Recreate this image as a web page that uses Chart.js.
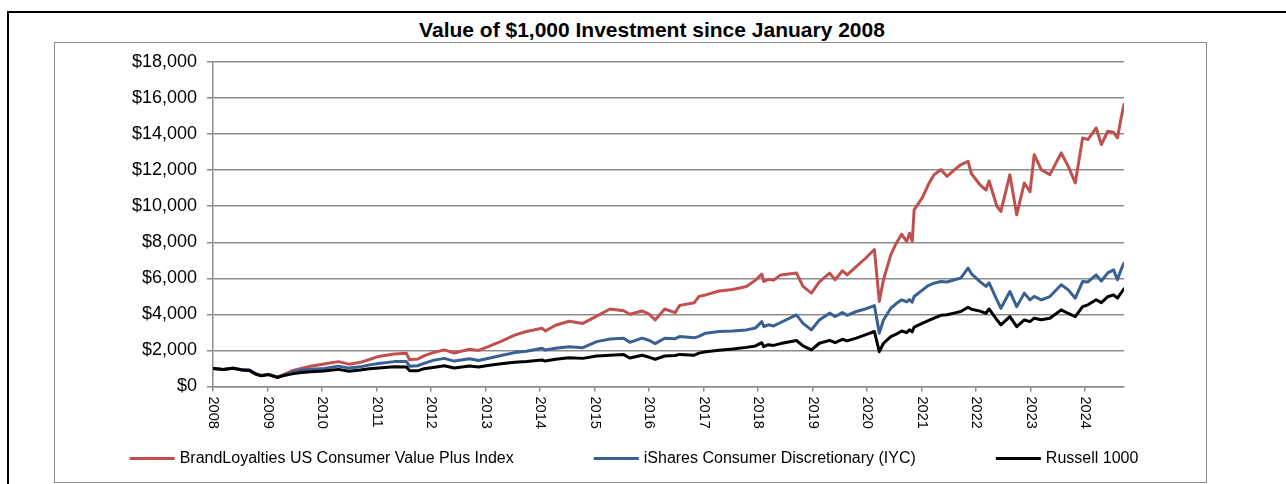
<!DOCTYPE html>
<html>
<head>
<meta charset="utf-8">
<title>Value of $1,000 Investment since January 2008</title>
<script src="https://cdn.jsdelivr.net/npm/chart.js@4.4.1/dist/chart.umd.min.js"></script>
<style>
  html, body { margin: 0; padding: 0; background: #fff; }
  body { width: 1286px; height: 484px; position: relative; overflow: hidden; font-family: "Liberation Sans", Arial, sans-serif; }
  #frame { position: absolute; left: 7px; top: 11px; width: 1300px; height: 500px; border-left: 2px solid #000; border-top: 2px solid #000; }
  #box { position: absolute; left: 54px; top: 42px; width: 1153px; height: 441px; box-sizing: border-box; border: 1.5px solid #8c8c8c; }
  #title { position: absolute; left: 352px; width: 600px; top: 19px; text-align: center; font-weight: bold; font-size: 21px; line-height: 21px; color: #000; white-space: nowrap; }
  canvas { position: absolute; left: 0; top: 0; }
</style>
</head>
<body>
<div id="frame"></div>
<div id="box"></div>
<div id="title">Value of $1,000 Investment since January 2008</div>
<canvas id="chart" width="1286" height="484"></canvas>
<script>
// dates (approximate)
const dates = [
  "2008-01-02", "2008-03-10", "2008-05-15", "2008-07-15", "2008-09-01", "2008-10-15", "2008-11-20",
  "2009-01-06", "2009-03-09", "2009-04-15", "2009-06-15", "2009-08-15", "2009-10-15",
  "2010-01-15", "2010-04-20", "2010-07-02", "2010-09-15", "2010-11-15",
  "2011-01-15", "2011-04-29", "2011-07-20", "2011-08-10", "2011-10-03", "2011-11-15",
  "2012-01-15", "2012-03-30", "2012-06-04", "2012-09-15", "2012-11-15",
  "2013-01-15", "2013-04-15", "2013-07-15", "2013-10-01",
  "2014-01-15", "2014-02-05", "2014-04-15", "2014-07-15", "2014-10-15",
  "2015-01-15", "2015-04-15", "2015-07-15", "2015-08-25", "2015-11-15",
  "2016-01-04", "2016-02-11", "2016-04-15", "2016-06-24", "2016-07-25", "2016-10-31", "2016-12-01",
  "2017-01-15", "2017-04-15", "2017-07-15", "2017-10-15", "2017-12-15",
  "2018-01-26", "2018-02-08", "2018-03-10", "2018-04-15", "2018-06-01", "2018-09-15", "2018-10-29", "2018-12-24",
  "2019-02-15", "2019-04-25", "2019-06-01", "2019-07-20", "2019-08-20", "2019-10-20", "2019-12-20",
  "2020-02-19", "2020-03-23", "2020-04-20", "2020-06-08", "2020-07-15", "2020-08-20", "2020-09-23", "2020-10-12", "2020-10-30", "2020-11-12",
  "2021-01-08", "2021-02-15", "2021-03-25", "2021-05-10", "2021-06-20", "2021-08-20", "2021-09-20", "2021-11-08", "2021-12-01",
  "2022-01-27", "2022-03-08", "2022-03-29", "2022-05-20", "2022-06-16", "2022-08-15", "2022-09-30", "2022-11-20", "2022-12-28",
  "2023-01-25", "2023-03-13", "2023-05-10", "2023-07-25", "2023-09-10", "2023-10-27", "2023-12-15",
  "2024-01-20", "2024-03-15", "2024-04-19", "2024-06-01", "2024-07-10", "2024-08-05", "2024-08-30", "2024-09-18"
];

const brandLoyalties = [
  1000, 950, 1020, 920, 920, 700, 610,
  680, 520, 650, 870, 1000, 1120,
  1250, 1380, 1240, 1340, 1500,
  1670, 1800, 1850, 1480, 1520, 1700,
  1880, 2030, 1860, 2070, 2000,
  2200, 2500, 2850, 3050,
  3230, 3080, 3400, 3620, 3500,
  3900, 4300, 4200, 4010, 4190,
  4000, 3690, 4300, 4100, 4500, 4650, 5000,
  5080, 5300, 5380, 5550, 5900,
  6230, 5820, 5950, 5900, 6190, 6290, 5550, 5180,
  5800, 6290, 5920, 6420, 6190, 6650, 7100,
  7600, 4720, 5920, 7300, 7950, 8450, 8040, 8500, 8050, 9800,
  10500, 11200, 11750, 12030, 11660, 12100, 12300, 12490, 11800,
  11190, 10900, 11400, 10000, 9710, 11750, 9530, 11290, 10800,
  12860, 12030, 11750, 12960, 12210, 11290, 13790,
  13700, 14340, 13420, 14160, 14100, 13790, 14900, 15640
];

const ishares = [
  1000, 950, 1010, 930, 910, 700, 610,
  670, 520, 620, 800, 900, 960,
  1000, 1130, 1020, 1090, 1200,
  1270, 1380, 1380, 1130, 1150, 1280,
  1450, 1560, 1410, 1540, 1440,
  1550, 1720, 1880, 1960,
  2120, 2020, 2120, 2210, 2150,
  2490, 2640, 2680, 2450, 2680,
  2550, 2380, 2680, 2650, 2770, 2700, 2780,
  2960, 3050, 3080, 3140, 3250,
  3600, 3330, 3420, 3360, 3550, 3970, 3500, 3140,
  3690, 4070, 3880, 4100, 3950, 4160, 4300,
  4490, 2960, 3690, 4340, 4600, 4810, 4700, 4820, 4680, 4990,
  5360, 5600, 5730, 5820, 5800, 5950, 6010, 6570, 6250,
  5820, 5550, 5750, 4800, 4340, 5270, 4430, 5180, 4800,
  5000, 4810, 4990, 5640, 5360, 4900, 5820,
  5800, 6190, 5850, 6300, 6470, 5920, 6500, 6840
];

const russell1000 = [
  1000, 940, 1010, 920, 890, 680, 590,
  660, 500, 600, 700, 780, 820,
  860, 950, 850, 910, 980,
  1030, 1100, 1080, 880, 870, 990,
  1060, 1150, 1030, 1140, 1080,
  1170, 1260, 1350, 1390,
  1470, 1410, 1510, 1600, 1560,
  1690, 1740, 1770, 1580, 1730,
  1620, 1510, 1690, 1720, 1780, 1740, 1850,
  1930, 2010, 2080, 2170, 2250,
  2430, 2210, 2320, 2280, 2380, 2550, 2250, 2030,
  2400, 2560, 2430, 2620, 2530, 2680, 2860,
  3050, 1930, 2400, 2770, 2900, 3080, 2990, 3150, 3030, 3300,
  3510, 3650, 3790, 3950, 3980, 4100, 4160, 4400, 4280,
  4180, 4060, 4300, 3700, 3420, 3880, 3320, 3690, 3600,
  3790, 3700, 3790, 4250, 4050, 3880, 4430,
  4530, 4810, 4650, 4980, 5080, 4900, 5200, 5420
];

const yearTicks = ["2008", "2009", "2010", "2011", "2012", "2013", "2014", "2015", "2016",
  "2017", "2018", "2019", "2020", "2021", "2022", "2023", "2024"];

const FONT = '"Liberation Sans", Arial, sans-serif';
const gridColor = "#8c8c8c";

// "YYYY-MM-DD" -> decimal year
function toYear(s) {
  const [y, m, d] = s.split("-").map(Number);
  const start = Date.UTC(y, 0, 1);
  const end = Date.UTC(y + 1, 0, 1);
  return y + (Date.UTC(y, m - 1, d) - start) / (end - start);
}

function series(values) {
  return values.map((v, i) => ({ x: toYear(dates[i]), y: v }));
}

function money(v) {
  return "$" + String(v).replace(/\B(?=(\d{3})+(?!\d))/g, ",");
}

// year labels read top-to-bottom (rotated clockwise)
const yearLabels = {
  id: "yearLabels",
  afterDraw(chart) {
    const scale = chart.scales.x;
    const ctx = chart.ctx;
    ctx.save();
    ctx.font = "14.5px " + FONT;
    ctx.fillStyle = "#000";
    ctx.textAlign = "left";
    ctx.textBaseline = "middle";
    scale.ticks.forEach((t, i) => {
      const x = scale.getPixelForValue(t.value);
      ctx.save();
      ctx.translate(x, scale.top + 10);
      ctx.rotate(Math.PI / 2);
      ctx.fillText(yearTicks[i], 0, 0);
      ctx.restore();
    });
    ctx.restore();
  }
};

// legend row under the axis
const bottomLegend = {
  id: "bottomLegend",
  afterDraw(chart) {
    const ctx = chart.ctx;
    const lineLen = 45, textGap = 5, itemGap = 80, y = 458.5, cx = 634;
    ctx.save();
    ctx.font = "16px " + FONT;
    const items = chart.data.datasets.map((ds) => ({
      ds,
      w: lineLen + textGap + ctx.measureText(ds.label).width
    }));
    const total = items.reduce((s, it) => s + it.w, 0) + itemGap * (items.length - 1);
    let x = cx - total / 2;
    items.forEach((it) => {
      ctx.strokeStyle = it.ds.borderColor;
      ctx.lineWidth = 3;
      ctx.beginPath();
      ctx.moveTo(x, y);
      ctx.lineTo(x + lineLen, y);
      ctx.stroke();
      ctx.fillStyle = "#000";
      ctx.textAlign = "left";
      ctx.textBaseline = "middle";
      ctx.fillText(it.ds.label, x + lineLen + textGap, y);
      x += it.w + itemGap;
    });
    ctx.restore();
  }
};

new Chart(document.getElementById("chart"), {
  type: "line",
  data: {
    datasets: [
      { label: "BrandLoyalties US Consumer Value Plus Index", data: series(brandLoyalties), borderColor: "#C0504D", order: 2 },
      { label: "iShares Consumer Discretionary (IYC)", data: series(ishares), borderColor: "#386092", order: 1 },
      { label: "Russell 1000", data: series(russell1000), borderColor: "#000000", order: 0 }
    ]
  },
  options: {
    responsive: false,
    animation: false,
    devicePixelRatio: 1,
    layout: { padding: { left: 60, right: 162, top: 62, bottom: 57.5 } },
    elements: {
      point: { radius: 0 },
      line: { borderWidth: 3, tension: 0, borderJoinStyle: "round", borderCapStyle: "round" }
    },
    plugins: {
      legend: { display: false },
      title: { display: false },
      tooltip: { enabled: false }
    },
    scales: {
      x: {
        type: "linear",
        min: 2008,
        max: toYear(dates[dates.length - 1]),
        afterBuildTicks: (s) => { s.ticks = yearTicks.map((v) => ({ value: Number(v) })); },
        afterFit: (s) => { s.height = 40; },
        ticks: { display: false },
        grid: { drawOnChartArea: false, tickLength: 5, color: gridColor, lineWidth: 1.5 },
        border: { color: gridColor, width: 1.5 }
      },
      y: {
        min: 0,
        max: 18000,
        afterFit: (s) => { s.width = 153; },
        ticks: {
          stepSize: 2000,
          padding: 10,
          color: "#000",
          font: { family: FONT, size: 18 },
          callback: (v) => money(v)
        },
        grid: { color: gridColor, lineWidth: 1.5, tickLength: 6 },
        border: { color: gridColor, width: 1.5 }
      }
    }
  },
  plugins: [yearLabels, bottomLegend]
});
</script>
</body>
</html>
